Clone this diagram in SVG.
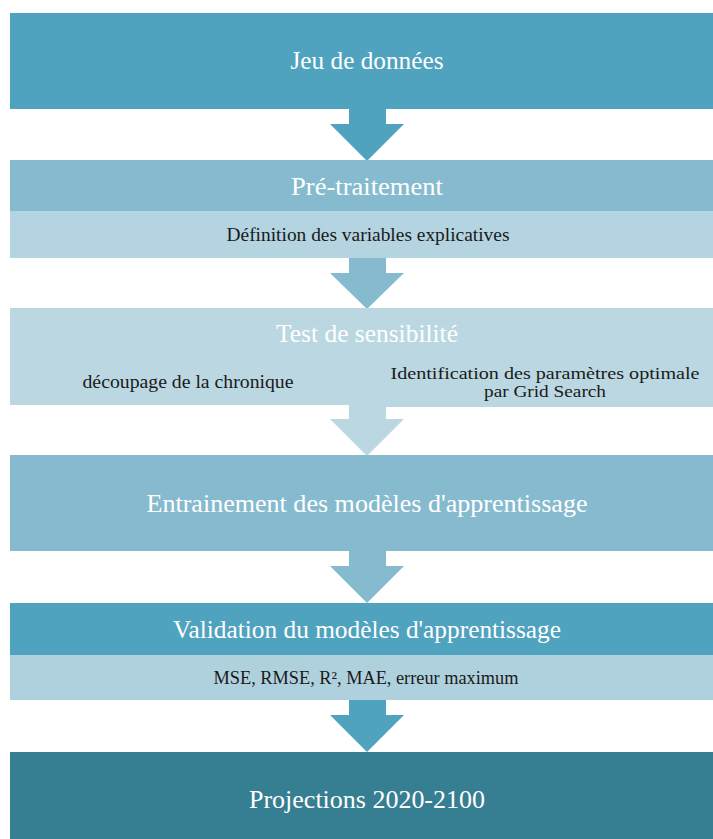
<svg xmlns="http://www.w3.org/2000/svg" width="713" height="839" viewBox="0 0 713 839">
<style>
.t{font-family:"Liberation Serif","Times New Roman",serif;fill:#ffffff;font-size:25px;text-anchor:middle}
.s{font-family:"Liberation Serif","Times New Roman",serif;fill:#1a1a1a;font-size:18px;text-anchor:middle}
.s2{font-family:"Liberation Serif","Times New Roman",serif;fill:#1a1a1a;font-size:16px;text-anchor:middle}
.c1{fill:#4FA3BE}.c2{fill:#86BBCF}.c3{fill:#BBD8E2}.c4{fill:#B3D4E0}.c5{fill:#AFD1DD}.c6{fill:#367E92}
</style>
<rect width="713" height="839" fill="#ffffff"/>
<g id="connectors">
<polygon class="c1" points="349,108 386,108 386,124 404,124 367,161 330,124 349,124"/>
<polygon class="c2" points="349,257 386,257 386,273 404,273 367,309 330,273 349,273"/>
<polygon class="c3" points="349,404 386,404 386,419 404,419 367,456 330,419 349,419"/>
<polygon class="c2" points="349,550 386,550 386,566 404,566 367,603 330,566 349,566"/>
<polygon class="c1" points="349,699 386,699 386,715 404,715 367,752 330,715 349,715"/>
</g>
<g id="n1">
<rect class="c1" x="10" y="13" width="703" height="96"/>
<text class="t" x="367" y="69" textLength="153" lengthAdjust="spacingAndGlyphs">Jeu de données</text>
</g>
<g id="n2">
<rect class="c2" x="10" y="160" width="703" height="51"/>
<text class="t" x="367" y="195" textLength="152" lengthAdjust="spacingAndGlyphs">Pré-traitement</text>
<rect class="c4" x="10" y="211" width="703" height="47"/>
<text class="s" x="368" y="241" textLength="283" lengthAdjust="spacingAndGlyphs">Définition des variables explicatives</text>
</g>
<g id="n3">
<rect class="c3" x="10" y="308" width="703" height="97"/>
<rect class="c3" x="385" y="360" width="328" height="47"/>
<text class="t" x="367" y="342" textLength="182" lengthAdjust="spacingAndGlyphs">Test de sensibilité</text>
<text class="s" x="188" y="388" textLength="211" lengthAdjust="spacingAndGlyphs">découpage de la chronique</text>
<text class="s2" x="545" y="379" textLength="309" lengthAdjust="spacingAndGlyphs">Identification des paramètres optimale</text>
<text class="s2" x="545" y="397" textLength="122" lengthAdjust="spacingAndGlyphs">par Grid Search</text>
</g>
<g id="n4">
<rect class="c2" x="10" y="455" width="703" height="96"/>
<text class="t" x="367" y="512" textLength="441" lengthAdjust="spacingAndGlyphs">Entrainement des modèles d'apprentissage</text>
</g>
<g id="n5">
<rect class="c1" x="10" y="603" width="703" height="52"/>
<text class="t" x="367" y="638" textLength="388" lengthAdjust="spacingAndGlyphs">Validation du modèles d'apprentissage</text>
<rect class="c5" x="10" y="655" width="703" height="45"/>
<text class="s" x="366" y="684" textLength="305" lengthAdjust="spacingAndGlyphs">MSE, RMSE, R², MAE, erreur maximum</text>
</g>
<g id="n6">
<rect class="c6" x="10" y="752" width="703" height="87"/>
<text class="t" x="367" y="808" textLength="236" lengthAdjust="spacingAndGlyphs">Projections 2020-2100</text>
</g>
</svg>
